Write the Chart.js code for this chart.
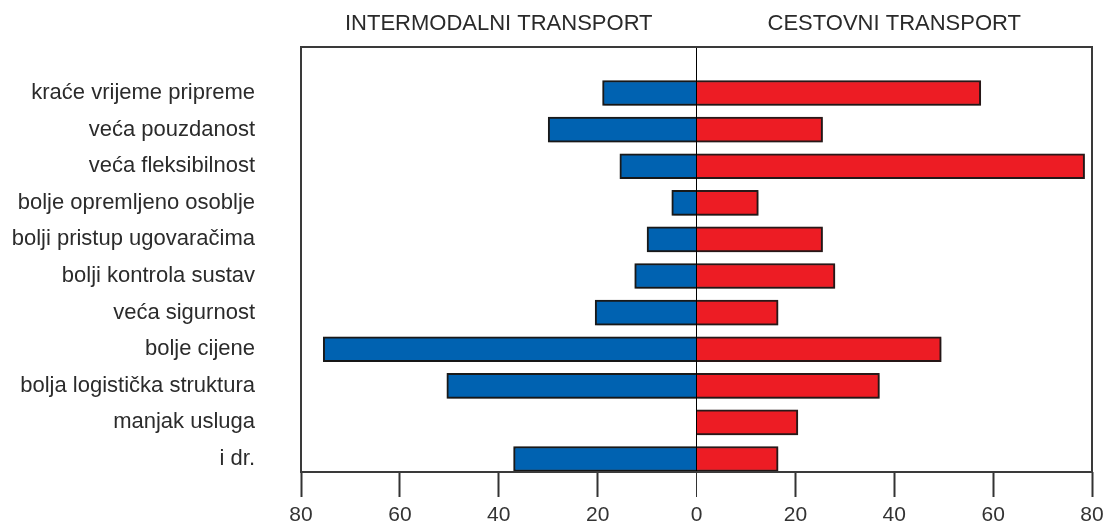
<!DOCTYPE html>
<html>
<head>
<meta charset="utf-8">
<script src="https://cdn.jsdelivr.net/npm/chart.js@4.4.1/dist/chart.umd.min.js"></script>
<style>
  html, body { margin: 0; padding: 0; background: #fff; }
  #wrap { width: 1108px; height: 524px; }
</style>
</head>
<body>
<div id="wrap"><canvas id="chart"></canvas></div>
<script>
// data (percent)
const categories = [
  'kraće vrijeme pripreme',
  'veća pouzdanost',
  'veća fleksibilnost',
  'bolje opremljeno osoblje',
  'bolji pristup ugovaračima',
  'bolji kontrola sustav',
  'veća sigurnost',
  'bolje cijene',
  'bolja logistička struktura',
  'manjak usluga',
  'i dr.'
];
const intermodalni = [19, 30, 15.5, 5, 10, 12.5, 20.5, 75.5, 50.5, 0, 37];
const cestovni     = [57.5, 25.5, 78.5, 12.5, 25.5, 28, 16.5, 49.5, 37, 20.5, 16.5];
const xTicks = [-80, -60, -40, -20, 0, 20, 40, 60, 80];
const sideTitles = ['INTERMODALNI TRANSPORT', 'CESTOVNI TRANSPORT'];

const FONT = "'Liberation Sans', Arial, sans-serif";

const framePlugin = {
  id: 'frame',
  afterDraw(chart){
    const { ctx, chartArea: a, scales } = chart;
    ctx.save();
    ctx.strokeStyle = '#3a3a3a';
    ctx.lineWidth = 2;
    ctx.strokeRect(a.left, a.top, a.right - a.left, a.bottom - a.top);
    // side titles centred over each half
    const zero = scales.x.getPixelForValue(0);
    ctx.fillStyle = '#2a2a2a';
    ctx.font = '22px ' + FONT;
    ctx.textAlign = 'center';
    ctx.textBaseline = 'middle';
    ctx.fillText(sideTitles[0], (a.left + zero) / 2, 24);
    ctx.fillText(sideTitles[1], (zero + a.right) / 2, 24);
    ctx.restore();
  }
};

const shadowPlugin = {
  id: 'barShadow',
  beforeDatasetsDraw(chart){
    const ctx = chart.ctx;
    ctx.save();
    ctx.shadowColor = 'rgba(0,0,0,0.3)';
    ctx.shadowBlur = 3;
    ctx.shadowOffsetX = 1;
    ctx.shadowOffsetY = 1;
  },
  afterDatasetsDraw(chart){ chart.ctx.restore(); }
};

new Chart(document.getElementById('chart'), {
  type: 'bar',
  data: {
    datasets: [
      {
        label: sideTitles[0],
        data: intermodalni.map((v, i) => ({ x: -v, y: i })),
        backgroundColor: '#0062b1',
        borderColor: '#1a1a1a',
        borderWidth: 2,
        grouped: false,
        barThickness: 25
      },
      {
        label: sideTitles[1],
        data: cestovni.map((v, i) => ({ x: v, y: i })),
        backgroundColor: '#ed1c24',
        borderColor: '#2a1a1a',
        borderWidth: 2,
        grouped: false,
        barThickness: 25
      }
    ]
  },
  options: {
    indexAxis: 'y',
    responsive: true,
    maintainAspectRatio: false,
    animation: false,
    layout: { padding: { top: 47, right: 16, left: 0, bottom: 0 } },
    plugins: { legend: { display: false }, tooltip: { enabled: false } },
    scales: {
      x: {
        type: 'linear',
        min: -80, max: 80,
        z: 1,
        afterBuildTicks: s => { s.ticks = xTicks.map(v => ({ value: v })); },
        afterFit: s => { s.height = 52; s.paddingLeft = 0; s.paddingRight = 0; },
        border: { display: false },
        grid: {
          color: c => (c.tick && c.tick.value === 0) ? '#000' : 'rgba(0,0,0,0)',
          lineWidth: 1,
          tickColor: '#333',
          tickWidth: c => (c.tick && c.tick.value === 0) ? 1 : 2,
          tickLength: 25
        },
        ticks: {
          color: '#333',
          padding: 6,
          font: { family: FONT, size: 21 },
          callback: v => Math.abs(v)
        }
      },
      y: {
        type: 'linear',
        reverse: true,
        offset: false,
        min: -1.257, max: 10.355,
        afterBuildTicks: s => { s.ticks = categories.map((_, i) => ({ value: i })); },
        afterFit: s => { s.width = 301; s.paddingTop = 0; s.paddingBottom = 0; },
        border: { display: false },
        grid: { display: false, drawTicks: false, offset: false },
        ticks: {
          color: '#2b2b2b',
          padding: 46,
          font: { family: FONT, size: 22 },
          callback: v => categories[v]
        }
      }
    }
  },
  plugins: [shadowPlugin, framePlugin]
});
</script>
</body>
</html>
